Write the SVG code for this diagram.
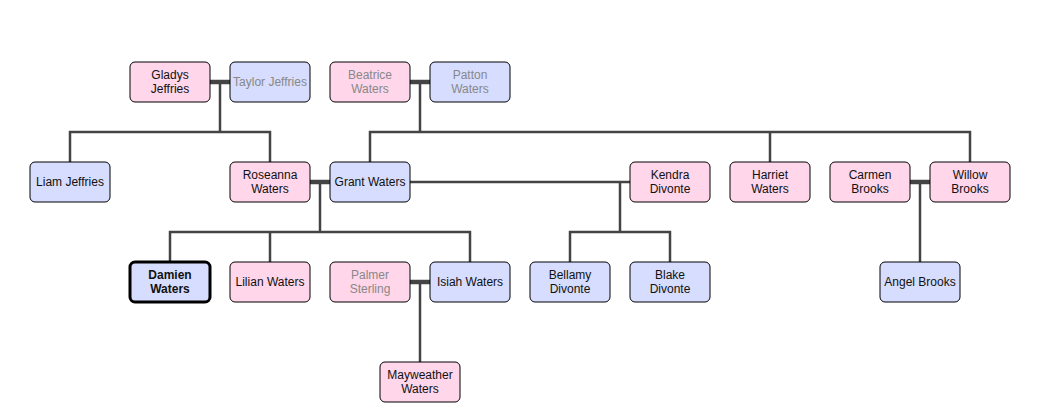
<svg xmlns="http://www.w3.org/2000/svg" width="1038" height="419" viewBox="0 0 1038 419">
<style>
.n rect{stroke:#000;stroke-width:1}
.f rect{fill:#ffd6ea}
.m rect{fill:#d6ddfe}
.n text{font-family:"Liberation Sans",Arial,sans-serif;font-size:12px;fill:#111;text-anchor:middle}
.g text{fill:#888}
.me rect{stroke-width:3}
.me text{font-weight:bold}
.c{stroke:#444;stroke-width:2.5;fill:none}
.cp{stroke:#444;stroke-width:4.5;fill:none}
</style>
<rect width="1038" height="419" fill="#fff"/>
<g id="connectors">
<path class="cp" d="M210 82H230M410 82H430M310 182H330M910 182H930M410 282H430"/>
<path class="c" d="M220 82V132M70 162V132H270V162"/>
<path class="c" d="M420 82V132M370 162V132H970V162M770 132V162"/>
<path class="c" d="M320 182V232M170 262V232H470V262M270 232V262"/>
<path class="c" d="M410 182H630M620 182V232M570 262V232H670V262"/>
<path class="c" d="M920 182V262"/>
<path class="c" d="M420 282V362"/>
</g>
<g id="gladys" class="n f"><rect x="130" y="62" width="80" height="40" rx="5"/><text x="170" y="79">Gladys</text><text x="170" y="93">Jeffries</text></g>
<g id="taylor" class="n m g"><rect x="230" y="62" width="80" height="40" rx="5"/><text x="270" y="86">Taylor Jeffries</text></g>
<g id="beatrice" class="n f g"><rect x="330" y="62" width="80" height="40" rx="5"/><text x="370" y="79">Beatrice</text><text x="370" y="93">Waters</text></g>
<g id="patton" class="n m g"><rect x="430" y="62" width="80" height="40" rx="5"/><text x="470" y="79">Patton</text><text x="470" y="93">Waters</text></g>
<g id="liam" class="n m"><rect x="30" y="162" width="80" height="40" rx="5"/><text x="70" y="186">Liam Jeffries</text></g>
<g id="roseanna" class="n f"><rect x="230" y="162" width="80" height="40" rx="5"/><text x="270" y="179">Roseanna</text><text x="270" y="193">Waters</text></g>
<g id="grant" class="n m"><rect x="330" y="162" width="80" height="40" rx="5"/><text x="370" y="186">Grant Waters</text></g>
<g id="kendra" class="n f"><rect x="630" y="162" width="80" height="40" rx="5"/><text x="670" y="179">Kendra</text><text x="670" y="193">Divonte</text></g>
<g id="harriet" class="n f"><rect x="730" y="162" width="80" height="40" rx="5"/><text x="770" y="179">Harriet</text><text x="770" y="193">Waters</text></g>
<g id="carmen" class="n f"><rect x="830" y="162" width="80" height="40" rx="5"/><text x="870" y="179">Carmen</text><text x="870" y="193">Brooks</text></g>
<g id="willow" class="n f"><rect x="930" y="162" width="80" height="40" rx="5"/><text x="970" y="179">Willow</text><text x="970" y="193">Brooks</text></g>
<g id="damien" class="n m me"><rect x="130" y="262" width="80" height="40" rx="5"/><text x="170" y="279">Damien</text><text x="170" y="293">Waters</text></g>
<g id="lilian" class="n f"><rect x="230" y="262" width="80" height="40" rx="5"/><text x="270" y="286">Lilian Waters</text></g>
<g id="palmer" class="n f g"><rect x="330" y="262" width="80" height="40" rx="5"/><text x="370" y="279">Palmer</text><text x="370" y="293">Sterling</text></g>
<g id="isiah" class="n m"><rect x="430" y="262" width="80" height="40" rx="5"/><text x="470" y="286">Isiah Waters</text></g>
<g id="bellamy" class="n m"><rect x="530" y="262" width="80" height="40" rx="5"/><text x="570" y="279">Bellamy</text><text x="570" y="293">Divonte</text></g>
<g id="blake" class="n m"><rect x="630" y="262" width="80" height="40" rx="5"/><text x="670" y="279">Blake</text><text x="670" y="293">Divonte</text></g>
<g id="angel" class="n m"><rect x="880" y="262" width="80" height="40" rx="5"/><text x="920" y="286">Angel Brooks</text></g>
<g id="mayweather" class="n f"><rect x="380" y="362" width="80" height="40" rx="5"/><text x="420" y="379">Mayweather</text><text x="420" y="393">Waters</text></g>
</svg>
